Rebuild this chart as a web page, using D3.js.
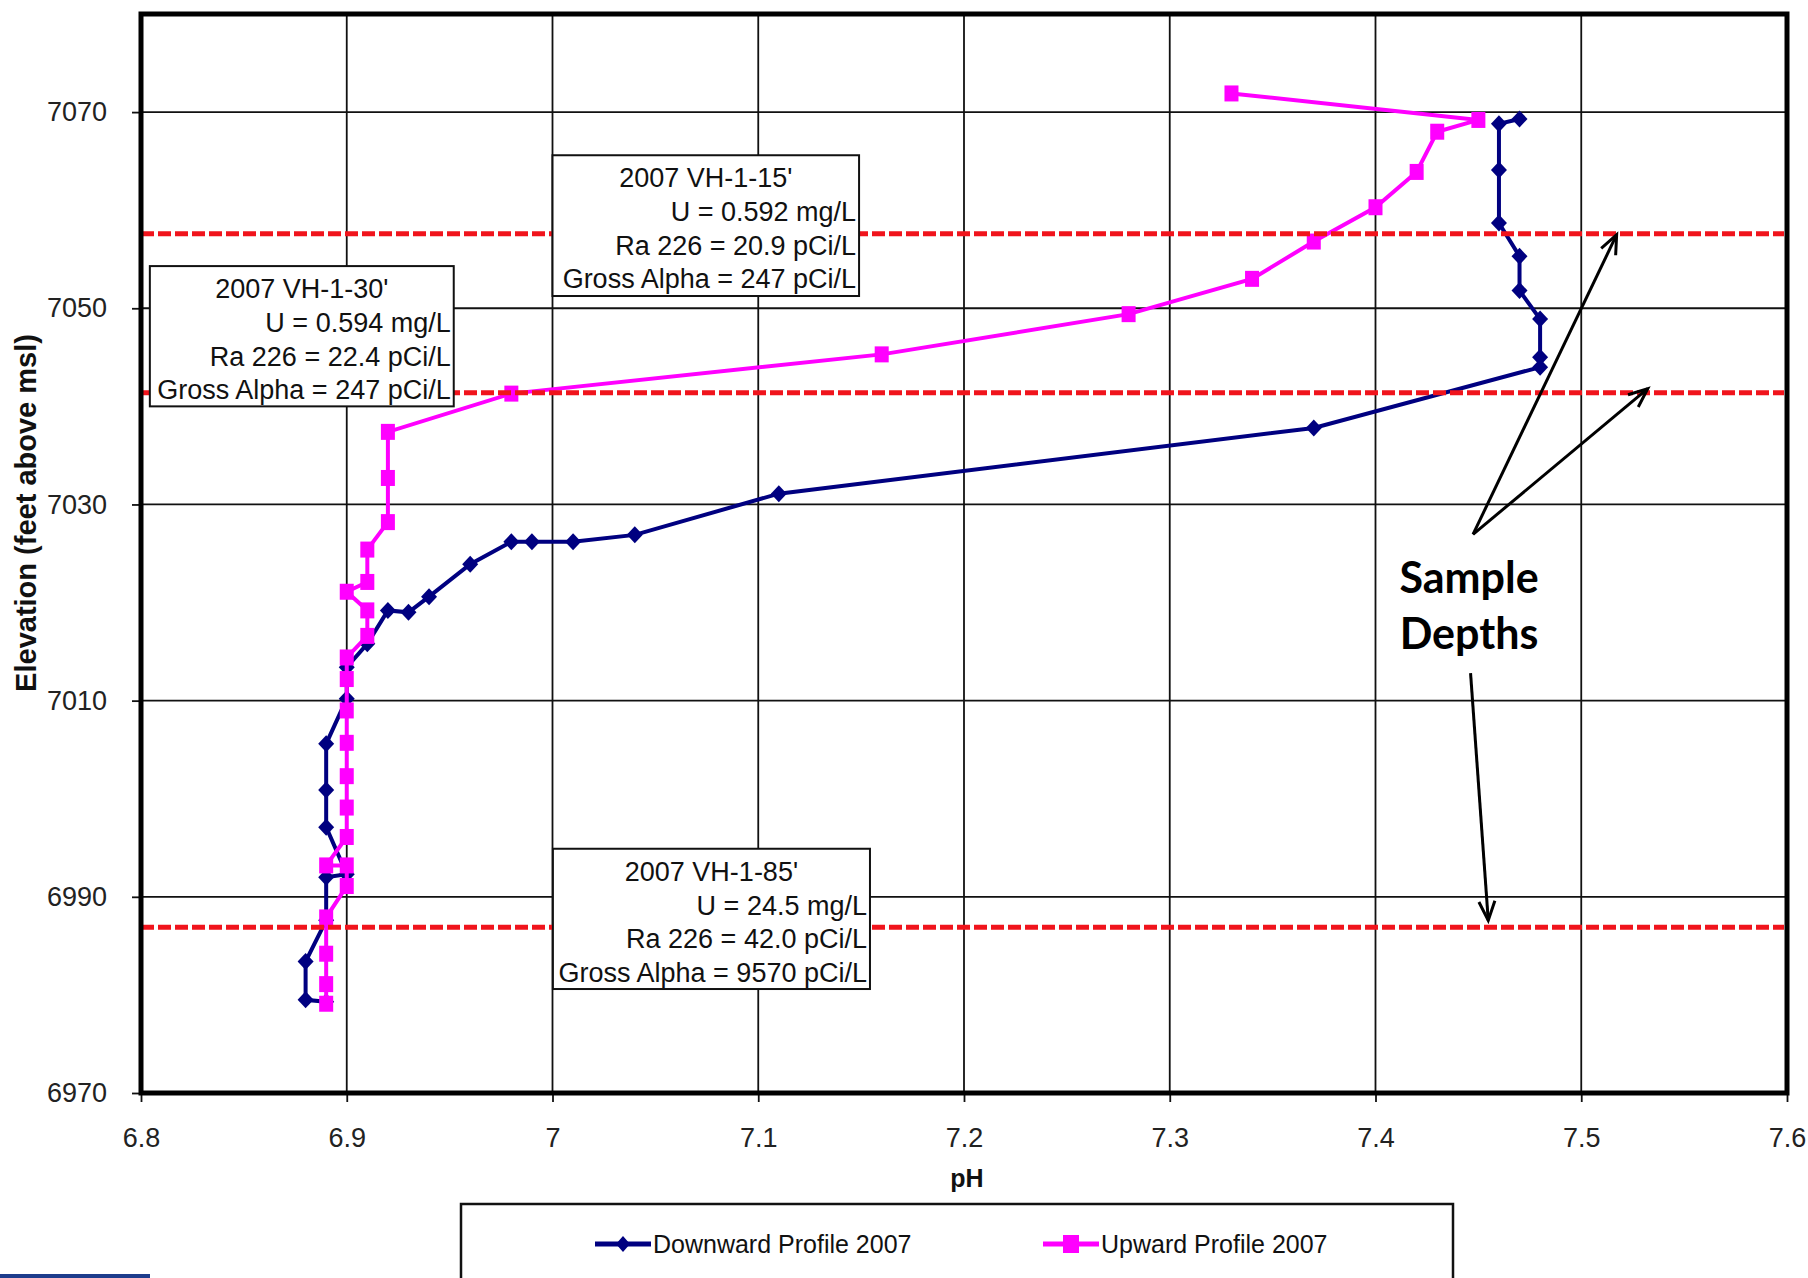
<!DOCTYPE html>
<head>
	<meta charset="utf-8">
	<script src="https://d3js.org/d3.v7.min.js"></script>
	<style>
		body { margin: 0; background: #fff; }
		svg { display: block; font-family: 'Liberation Sans', Arial, sans-serif; }
	</style>
</head>
<body>
<svg width="1808" height="1278"></svg>
<script>
	// axis ticks
	var xTicks = [6.8, 6.9, 7.0, 7.1, 7.2, 7.3, 7.4, 7.5, 7.6];
	var yTicks = [6970, 6990, 7010, 7030, 7050, 7070];

	// Downward profile 2007 (probe going down)
	var downPH   = [7.47, 7.46, 7.46, 7.46, 7.47, 7.47, 7.48, 7.48, 7.48, 7.37, 7.11, 7.04, 7.01, 6.99, 6.98, 6.96, 6.94, 6.93, 6.92, 6.91, 6.90, 6.90, 6.89, 6.89, 6.89, 6.90, 6.89, 6.89, 6.88, 6.88, 6.89];
	var downElev = [7069.3, 7068.8, 7064.1, 7058.7, 7055.3, 7051.8, 7048.9, 7045.0, 7044.0, 7037.8, 7031.1, 7026.9, 7026.2, 7026.2, 7026.2, 7023.9, 7020.6, 7019.0, 7019.2, 7015.8, 7013.4, 7010.2, 7005.6, 7000.9, 6997.1, 6992.3, 6992.0, 6987.6, 6983.4, 6979.5, 6979.3];

	// Upward profile 2007 (probe coming up)
	var upPH   = [6.89, 6.89, 6.89, 6.89, 6.90, 6.90, 6.89, 6.90, 6.90, 6.90, 6.90, 6.90, 6.90, 6.90, 6.91, 6.91, 6.90, 6.91, 6.91, 6.92, 6.92, 6.92, 6.98, 7.16, 7.28, 7.34, 7.37, 7.40, 7.42, 7.43, 7.45, 7.33];
	var upElev = [6979.1, 6981.1, 6984.2, 6987.9, 6991.1, 6993.2, 6993.2, 6996.1, 6999.1, 7002.3, 7005.7, 7009.0, 7012.2, 7014.4, 7016.6, 7019.2, 7021.1, 7022.1, 7025.4, 7028.2, 7032.7, 7037.4, 7041.3, 7045.3, 7049.4, 7053.0, 7056.8, 7060.3, 7063.9, 7068.0, 7069.2, 7071.9];

	// sample depth elevations (red dashed)
	var sampleDepths = [7057.6, 7041.4, 6986.9];

	// sample result boxes
	var boxTitles = ["2007 VH-1-15'", "2007 VH-1-30'", "2007 VH-1-85'"];
	var boxU      = ["U = 0.592 mg/L", "U = 0.594 mg/L", "U = 24.5 mg/L"];
	var boxRa     = ["Ra 226 = 20.9 pCi/L", "Ra 226 = 22.4 pCi/L", "Ra 226 = 42.0 pCi/L"];
	var boxAlpha  = ["Gross Alpha = 247 pCi/L", "Gross Alpha = 247 pCi/L", "Gross Alpha = 9570 pCi/L"];

	var seriesNames = ['Downward Profile 2007', 'Upward Profile 2007'];

	// ---- layout ----
	var W = 1808, H = 1278;
	var pLeft = 141, pRight = 1787, pTop = 14, pBottom = 1093;
	var navy = '#000080', pink = '#ff00ff', red = '#f0141c';

	// box placement in data units: [pH left, pH right, elev top, elev bottom]
	var boxPos = [[7.0, 7.149, 7065.6, 7051.25], [6.8043, 6.952, 7054.3, 7040.0], [7.0002, 7.1543, 6994.9, 6980.6]];
	// arrows in data units: [fromPH, fromElev, toPH, toElev]
	var arrows = [[7.4474, 7026.95, 7.5172, 7057.5], [7.4474, 7026.95, 7.5323, 7041.8], [7.4462, 7012.8, 7.4548, 6987.6]];

	var svg = d3.select('svg');
	var x = d3.scaleLinear().domain([6.8, 7.6]).range([pLeft, pRight]);
	var y = d3.scaleLinear().domain([6970, 7080]).range([pBottom, pTop]);

	svg.append('rect').attr('width', W).attr('height', H).attr('fill', '#fff');

	svg.append('defs').append('marker')
		.attr('id', 'head')
		.attr('markerUnits', 'userSpaceOnUse')
		.attr('viewBox', '-22 -12 26 24')
		.attr('markerWidth', 26).attr('markerHeight', 24)
		.attr('refX', 0).attr('refY', 0)
		.attr('orient', 'auto')
		.append('path')
		.attr('d', 'M-19,-8L0,0L-19,8')
		.attr('fill', 'none').attr('stroke', '#000').attr('stroke-width', 3);

	/* --------- GRID --------- */
	var grid = svg.append('g');
	grid.selectAll('line.gx').data(xTicks).enter().append('line')
		.attr('x1', function (d) { return x(d); }).attr('x2', function (d) { return x(d); })
		.attr('y1', pTop).attr('y2', pBottom)
		.attr('stroke', '#111').attr('stroke-width', 1.8);
	grid.selectAll('line.gy').data(yTicks).enter().append('line')
		.attr('x1', pLeft).attr('x2', pRight)
		.attr('y1', function (d) { return y(d); }).attr('y2', function (d) { return y(d); })
		.attr('stroke', '#111').attr('stroke-width', 1.8);

	/* --------- AXES --------- */
	var yAxis = svg.append('g').attr('transform', 'translate(' + pLeft + ',0)')
		.call(d3.axisLeft(y).tickValues(yTicks).tickSize(9).tickPadding(25).tickFormat(d3.format('d')));
	var xAxis = svg.append('g').attr('transform', 'translate(0,' + pBottom + ')')
		.call(d3.axisBottom(x).tickValues(xTicks).tickSize(9).tickPadding(26).tickFormat(function (d) { return String(+d.toFixed(1)); }));
	[xAxis, yAxis].forEach(function (a) {
		a.select('.domain').remove();
		a.selectAll('line').attr('stroke', '#111').attr('stroke-width', 1.8);
		a.selectAll('text').attr('font-size', 27).attr('fill', '#222')
			.attr('font-family', "'Liberation Sans', Arial, sans-serif");
	});

	/* --------- SERIES --------- */
	function series(xs, ys) {
		return xs.map(function (v, i) { return [v, ys[i]]; });
	}
	var downData = series(downPH, downElev);
	var upData = series(upPH, upElev);
	var line = d3.line().x(function (d) { return x(d[0]); }).y(function (d) { return y(d[1]); });

	svg.append('path').datum(downData)
		.attr('d', line).attr('fill', 'none').attr('stroke', navy).attr('stroke-width', 4);
	svg.append('g').selectAll('path').data(downData).enter().append('path')
		.attr('d', 'M0,-8.5L8,0L0,8.5L-8,0Z')
		.attr('transform', function (d) { return 'translate(' + x(d[0]) + ',' + y(d[1]) + ')'; })
		.attr('fill', navy);

	svg.append('path').datum(upData)
		.attr('d', line).attr('fill', 'none').attr('stroke', pink).attr('stroke-width', 4);
	svg.append('g').selectAll('rect').data(upData).enter().append('rect')
		.attr('x', function (d) { return x(d[0]) - 7; })
		.attr('y', function (d) { return y(d[1]) - 8; })
		.attr('width', 14).attr('height', 16)
		.attr('fill', pink);

	/* --------- SAMPLE DEPTH LINES --------- */
	svg.append('g').selectAll('line').data(sampleDepths).enter().append('line')
		.attr('x1', pLeft).attr('x2', pRight - 3)
		.attr('y1', function (d) { return y(d); }).attr('y2', function (d) { return y(d); })
		.attr('stroke', red).attr('stroke-width', 5).attr('stroke-dasharray', '13,4');

	/* --------- RESULT BOXES --------- */
	var boxes = svg.append('g').selectAll('g').data(boxPos).enter().append('g');
	boxes.append('rect')
		.attr('x', function (d) { return x(d[0]); })
		.attr('y', function (d) { return y(d[2]); })
		.attr('width', function (d) { return x(d[1]) - x(d[0]); })
		.attr('height', function (d) { return y(d[3]) - y(d[2]); })
		.attr('fill', '#fff').attr('stroke', '#111').attr('stroke-width', 2);
	boxes.append('text')
		.attr('x', function (d) { return (x(d[0]) + x(d[1])) / 2; })
		.attr('y', function (d) { return y(d[2]) + 32; })
		.attr('text-anchor', 'middle').attr('font-size', 27).attr('fill', '#111')
		.text(function (d, i) { return boxTitles[i]; });
	[boxU, boxRa, boxAlpha].forEach(function (rows, k) {
		boxes.append('text')
			.attr('x', function (d) { return x(d[1]) - 3; })
			.attr('y', function (d) { return y(d[2]) + 66 + k * 33.5; })
			.attr('text-anchor', 'end').attr('font-size', 27).attr('fill', '#111')
			.text(function (d, i) { return rows[i]; });
	});

	/* --------- FRAME --------- */
	svg.append('rect')
		.attr('x', pLeft).attr('y', pTop)
		.attr('width', pRight - pLeft).attr('height', pBottom - pTop)
		.attr('fill', 'none').attr('stroke', '#000').attr('stroke-width', 5);

	/* --------- ARROWS + NOTE --------- */
	svg.append('g').selectAll('line').data(arrows).enter().append('line')
		.attr('x1', function (d) { return x(d[0]); }).attr('y1', function (d) { return y(d[1]); })
		.attr('x2', function (d) { return x(d[2]); }).attr('y2', function (d) { return y(d[3]); })
		.attr('stroke', '#000').attr('stroke-width', 3).attr('marker-end', 'url(#head)');
	var note = svg.append('text')
		.attr('x', 1469).attr('y', 593)
		.attr('text-anchor', 'middle')
		.attr('font-family', 'Lato, sans-serif').attr('font-weight', 'bold').attr('font-size', 43).attr('fill', '#000');
	note.append('tspan').attr('x', 1469).text('Sample');
	note.append('tspan').attr('x', 1469).attr('dy', 56).text('Depths');

	/* --------- AXIS TITLES --------- */
	svg.append('text')
		.attr('transform', 'translate(36,513) rotate(-90)')
		.attr('text-anchor', 'middle').attr('font-weight', 'bold').attr('font-size', 29).attr('fill', '#111')
		.text('Elevation (feet above msl)');
	svg.append('text')
		.attr('x', 967).attr('y', 1187)
		.attr('text-anchor', 'middle').attr('font-weight', 'bold').attr('font-size', 25).attr('fill', '#111')
		.text('pH');

	/* --------- LEGEND --------- */
	var legend = svg.append('g');
	legend.append('rect')
		.attr('x', 461).attr('y', 1204).attr('width', 992).attr('height', 110)
		.attr('fill', '#fff').attr('stroke', '#111').attr('stroke-width', 2.5);
	var legX = [595, 1043];
	var legItems = legend.selectAll('g').data(seriesNames).enter().append('g')
		.attr('transform', function (d, i) { return 'translate(' + legX[i] + ',1244)'; });
	legItems.append('line')
		.attr('x1', 0).attr('x2', 56).attr('y1', 0).attr('y2', 0)
		.attr('stroke', function (d, i) { return i ? pink : navy; }).attr('stroke-width', 5);
	legItems.filter(function (d, i) { return i === 0; }).append('path')
		.attr('d', 'M28,-8L35,0L28,8L21,0Z').attr('fill', navy);
	legItems.filter(function (d, i) { return i === 1; }).append('rect')
		.attr('x', 20).attr('y', -9).attr('width', 16).attr('height', 18).attr('fill', pink);
	legItems.append('text')
		.attr('x', 58).attr('y', 9)
		.attr('font-size', 25).attr('fill', '#111')
		.text(function (d) { return d; });

	// cut-off footer bar at bottom-left
	svg.append('rect').attr('x', 0).attr('y', 1274).attr('width', 150).attr('height', 4).attr('fill', '#1d3c8c');
</script>
</body>
